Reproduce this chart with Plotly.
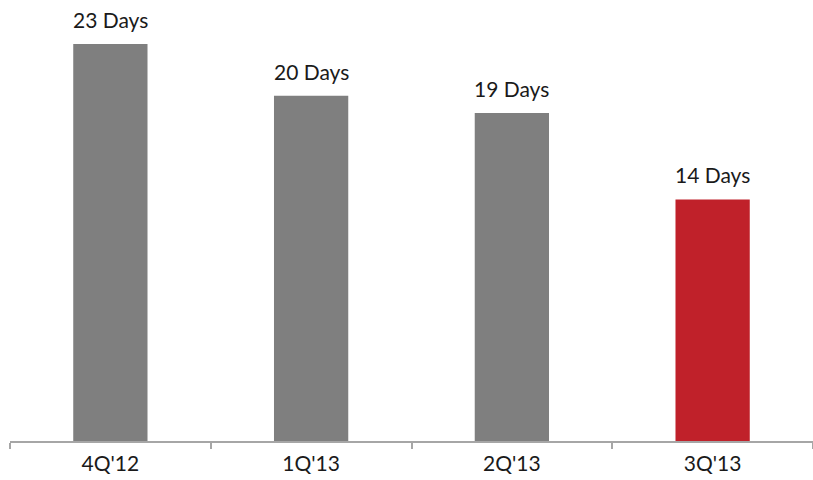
import plotly.graph_objects as go

# Days per quarter
quarters = ["4Q'12", "1Q'13", "2Q'13", "3Q'13"]
days = [23, 20, 19, 14]
bar_colors = ["#7F7F7F", "#7F7F7F", "#7F7F7F", "#C0212A"]

FONT = "Lato, 'Open Sans', sans-serif"

fig = go.Figure()
fig.add_trace(go.Bar(
    x=quarters,
    y=days,
    width=0.37,
    marker=dict(color=bar_colors, line=dict(width=0)),
    hoverinfo="skip",
))

for q, d in zip(quarters, days):
    fig.add_annotation(
        x=q, y=d, text=f"{d} Days", showarrow=False,
        yanchor="bottom", yshift=10,
        font=dict(family=FONT, size=21, color="#1a1a1a"),
    )

fig.update_layout(
    width=813, height=480,
    margin=dict(l=10, r=0, t=13, b=39),
    paper_bgcolor="white", plot_bgcolor="white",
    showlegend=False,
    xaxis=dict(
        type="category",
        showline=True, linecolor="#A6A6A6", linewidth=1.5,
        ticks="outside", tickson="boundaries", ticklen=6,
        tickcolor="#A6A6A6", tickwidth=1.5,
        showgrid=False,
        ticklabelstandoff=3,
        tickfont=dict(family=FONT, size=21, color="#1a1a1a"),
    ),
    yaxis=dict(range=[0, 24.8], visible=False, showgrid=False, zeroline=False),
)

fig.write_html("out.html")
